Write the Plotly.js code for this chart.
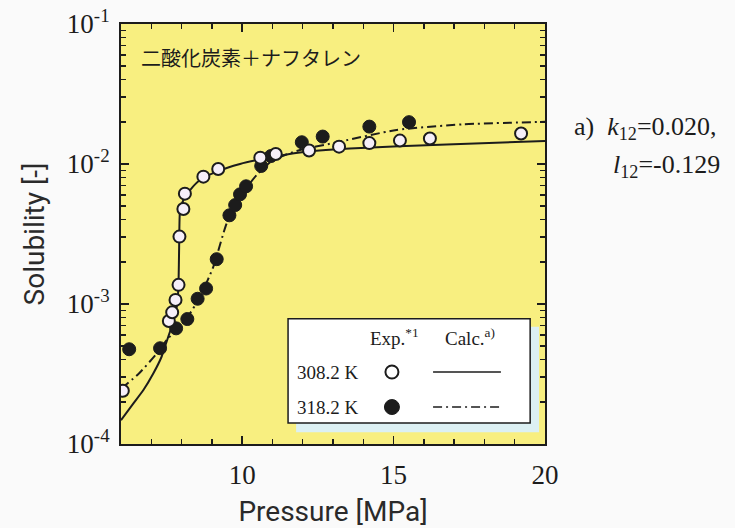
<!DOCTYPE html>
<html>
<head>
<meta charset="utf-8">
<script src="https://cdn.plot.ly/plotly-3.0.1.min.js"></script>
<style>
  html, body { margin: 0; padding: 0; background: #fafafa; }
  #chart { width: 735px; height: 528px; }
</style>
</head>
<body>
<div id="chart"></div>
<script>
// CO2 + naphthalene solubility (mole fraction) vs pressure

// Experimental, 308.2 K
const exp308P = [6.06, 7.58, 7.69, 7.80, 7.90, 7.93, 8.06, 8.11, 8.72, 9.21, 10.60, 11.11, 12.21, 13.20, 14.20, 15.21, 16.20, 19.21];
const exp308Y = [2.40e-4, 7.56e-4, 8.72e-4, 1.07e-3, 1.37e-3, 3.03e-3, 4.77e-3, 6.14e-3, 8.12e-3, 9.20e-3, 1.11e-2, 1.18e-2, 1.25e-2, 1.33e-2, 1.41e-2, 1.47e-2, 1.52e-2, 1.65e-2];

// Experimental, 318.2 K
const exp318P = [6.27, 7.29, 7.82, 8.19, 8.53, 8.81, 9.16, 9.58, 9.77, 9.93, 10.13, 10.63, 10.95, 11.97, 12.66, 14.20, 15.51];
const exp318Y = [4.75e-4, 4.83e-4, 6.70e-4, 7.81e-4, 1.09e-3, 1.29e-3, 2.09e-3, 4.30e-3, 5.09e-3, 6.07e-3, 6.93e-3, 9.68e-3, 1.14e-2, 1.43e-2, 1.57e-2, 1.85e-2, 1.99e-2];

// Calculated, 308.2 K
const calc308P = [6.00, 6.41, 6.74, 7.07, 7.34, 7.56, 7.73, 7.86, 7.90, 7.92, 7.95, 8.06, 8.28, 8.61, 9.16, 9.93, 10.81, 11.91, 13.56, 16.75, 20.00];
const calc308Y = [1.48e-4, 1.95e-4, 2.43e-4, 3.20e-4, 4.20e-4, 5.84e-4, 7.48e-4, 1.01e-3, 1.41e-3, 2.60e-3, 4.69e-3, 5.53e-3, 6.52e-3, 7.69e-3, 8.81e-3, 1.00e-2, 1.10e-2, 1.21e-2, 1.29e-2, 1.38e-2, 1.46e-2];

// Calculated, 318.2 K
const calc318P = [6.02, 6.60, 7.23, 7.51, 8.17, 8.61, 9.05, 9.49, 9.93, 10.48, 11.03, 11.91, 13.01, 15.10, 17.30, 20.00];
const calc318Y = [2.50e-4, 3.20e-4, 4.56e-4, 5.53e-4, 7.90e-4, 1.13e-3, 1.85e-3, 3.77e-3, 5.84e-3, 8.34e-3, 1.07e-2, 1.26e-2, 1.41e-2, 1.75e-2, 1.92e-2, 2.00e-2];

// Axis ticks
const xMajorTicks = [10, 15, 20];
const yMajorTicks = [1e-4, 1e-3, 1e-2, 1e-1];
const yTickText = ['10<sup>-4</sup>', '10<sup>-3</sup>', '10<sup>-2</sup>', '10<sup>-1</sup>'];

const yMinor = [];
for (let e = -4; e < -1; e++) {
  for (let d = 2; d <= 9; d++) yMinor.push(d * Math.pow(10, e));
}
const xMinor = [];
for (let p = 7; p < 20; p++) if (p % 5 !== 0) xMinor.push(p);

const ink = '#1c1c1c';
const serif = 'Liberation Serif, Times New Roman, serif';
const sans = 'Roboto, sans-serif';

const traces = [
  {
    x: calc308P, y: calc308Y, mode: 'lines', type: 'scatter',
    line: { color: ink, width: 2, shape: 'spline', smoothing: 0.5 },
    hoverinfo: 'skip'
  },
  {
    x: calc318P, y: calc318Y, mode: 'lines', type: 'scatter',
    line: { color: ink, width: 2, shape: 'spline', smoothing: 0.6, dash: '9px,4px,2px,4px' },
    hoverinfo: 'skip'
  },
  {
    x: exp318P, y: exp318Y, mode: 'markers', type: 'scatter',
    marker: { symbol: 'circle', size: 13, color: ink, line: { color: ink, width: 1 } }
  },
  {
    x: exp308P, y: exp308Y, mode: 'markers', type: 'scatter',
    marker: { symbol: 'circle', size: 12, color: '#f6eff9', line: { color: ink, width: 2 } }
  }
];

// Legend panel geometry (paper coordinates)
const box = { x0: 0.394, x1: 0.965, y0: 0.050, y1: 0.298 };
const shadow = { x0: 0.413, x1: 0.986, y0: 0.028, y1: 0.279 };
const rowY = [0.1714, 0.088];
const symX = 0.639;
const lineX = [0.736, 0.896];

const shapes = [
  { type: 'rect', xref: 'paper', yref: 'paper', ...shadow, fillcolor: '#dcf0f3', line: { width: 0 }, layer: 'above' },
  { type: 'rect', xref: 'paper', yref: 'paper', ...box, fillcolor: '#ffffff', line: { color: ink, width: 1.5 }, layer: 'above' },
  { type: 'circle', xref: 'paper', yref: 'paper', xsizemode: 'pixel', ysizemode: 'pixel',
    xanchor: symX, yanchor: rowY[0], x0: -6.5, x1: 6.5, y0: -6.5, y1: 6.5,
    fillcolor: '#ffffff', line: { color: ink, width: 2 }, layer: 'above' },
  { type: 'circle', xref: 'paper', yref: 'paper', xsizemode: 'pixel', ysizemode: 'pixel',
    xanchor: symX, yanchor: rowY[1], x0: -7.5, x1: 7.5, y0: -7.5, y1: 7.5,
    fillcolor: ink, line: { color: ink, width: 1 }, layer: 'above' },
  { type: 'line', xref: 'paper', yref: 'paper', x0: lineX[0], x1: lineX[1], y0: rowY[0], y1: rowY[0],
    line: { color: ink, width: 1.5 }, layer: 'above' },
  { type: 'line', xref: 'paper', yref: 'paper', x0: lineX[0], x1: lineX[1], y0: rowY[1], y1: rowY[1],
    line: { color: ink, width: 1.5, dash: '9px,4px,2px,4px' }, layer: 'above' }
];

const legFont = { family: serif, size: 19, color: ink };
const legText = (x, y, text) => ({
  xref: 'paper', yref: 'paper', x: x, y: y, xanchor: 'center', yanchor: 'middle',
  text: text, showarrow: false, font: legFont
});

const annotations = [
  { xref: 'paper', yref: 'paper', x: 0.043, y: 0.921, xanchor: 'left', yanchor: 'middle',
    text: '二酸化炭素＋ナフタレン', showarrow: false,
    font: { family: 'Noto Sans CJK JP, sans-serif', size: 20, color: ink } },
  legText(0.646, 0.2548, 'Exp.<sup>*1</sup>'),
  legText(0.823, 0.2548, 'Calc.<sup>a)</sup>'),
  legText(0.488, rowY[0], '308.2 K'),
  legText(0.488, rowY[1], '318.2 K'),
  { xref: 'paper', yref: 'paper', x: 1.064, y: 0.752, xanchor: 'left', yanchor: 'middle',
    text: 'a)  <i>k</i><sub>12</sub>=0.020,', showarrow: false,
    font: { family: serif, size: 26, color: ink } },
  { xref: 'paper', yref: 'paper', x: 1.156, y: 0.662, xanchor: 'left', yanchor: 'middle',
    text: '<i>l</i><sub>12</sub>=-0.129', showarrow: false,
    font: { family: serif, size: 26, color: ink } }
];

const layout = {
  width: 735, height: 528,
  margin: { l: 121, r: 190, t: 24, b: 84 },
  paper_bgcolor: '#fafafa',
  plot_bgcolor: '#f8ef80',
  showlegend: false,
  xaxis: {
    range: [6, 20],
    tickmode: 'array', tickvals: xMajorTicks,
    ticks: 'inside', ticklen: 8, tickwidth: 1.5, tickcolor: ink,
    showline: true, linecolor: ink, linewidth: 2, mirror: 'allticks',
    showgrid: false, zeroline: false,
    tickfont: { family: serif, size: 27, color: ink },
    ticklabelstandoff: 6,
    minor: { tickmode: 'array', tickvals: xMinor, ticks: 'inside', ticklen: 5, tickwidth: 1.5, tickcolor: ink, showgrid: false },
    title: { text: 'Pressure [MPa]', font: { family: sans, size: 28, color: '#2a2a2a' }, standoff: 12 }
  },
  yaxis: {
    type: 'log', range: [-4, -1],
    tickmode: 'array', tickvals: yMajorTicks, ticktext: yTickText,
    ticks: 'inside', ticklen: 8, tickwidth: 1.5, tickcolor: ink,
    showline: true, linecolor: ink, linewidth: 2, mirror: 'allticks',
    showgrid: false, zeroline: false,
    tickfont: { family: serif, size: 27, color: ink },
    ticklabelstandoff: 4,
    minor: { tickmode: 'array', tickvals: yMinor, ticks: 'inside', ticklen: 5, tickwidth: 1.5, tickcolor: ink, showgrid: false },
    title: { text: 'Solubility [-]', font: { family: sans, size: 28, color: '#2a2a2a' }, standoff: 14 }
  },
  shapes: shapes,
  annotations: annotations
};

Plotly.newPlot('chart', traces, layout, { displayModeBar: false, staticPlot: true });
</script>
</body>
</html>
